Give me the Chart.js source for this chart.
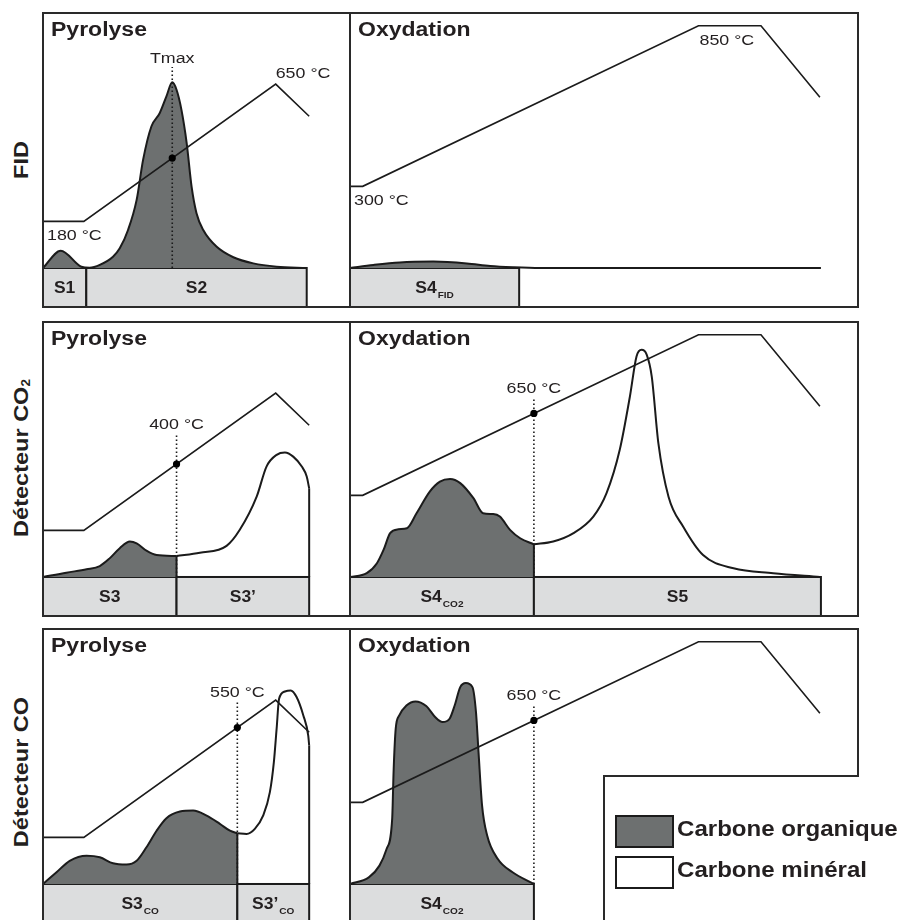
<!DOCTYPE html>
<html lang="fr">
<head>
<meta charset="UTF-8">
<title>Pyrolyse / Oxydation</title>
<script src="https://cdn.jsdelivr.net/npm/chart.js"></script>
<style>
  body { margin: 0; background: #fff; width: 904px; height: 920px; overflow: hidden; position: relative; }
  canvas { position: absolute; }
  .side {
    position: absolute; white-space: nowrap; line-height: 1;
    font: bold 21px "Liberation Sans", Arial, sans-serif; color: #231f20;
    transform: translate(-50%, -50%) rotate(-90deg) scaleX(1.12);
  }
  .side sub { font-size: 12px; vertical-align: -2px; }
</style>
</head>
<body>
<div class="side" style="left:21px;top:160px">FID</div>
<div class="side" style="left:21px;top:458px">Détecteur CO<sub>2</sub></div>
<div class="side" style="left:21px;top:772px">Détecteur CO</div>
<script>
// temperature programmes (time as % of panel width, °C)
const pyroTime = [0, 13.3, 75.8, 86.7];
const pyroTemp = [180, 180, 650, 540];
const oxyTime = [0, 2.5, 68.6, 80.9, 92.5];
const oxyTemp = [300, 300, 850, 850, 605];

// FID - pyrolyse (S1 + S2)
const fidPyroTime = [0, 5.8, 12.5, 15.2, 18.5, 22.8, 25.0, 27.7, 30.5, 32.6, 35.3, 38.0, 40.2, 42.1, 43.5, 45.1, 46.8, 48.4, 50.0, 52.2, 56.5, 62.0, 68.5, 76.1, 85.9];
const fidPyroSignal = [0, 6.8, 0.5, 0.1, 1.2, 4.4, 7.7, 14.9, 26.7, 42.4, 55.5, 60.7, 67.3, 72.8, 69.9, 62.0, 49.0, 31.9, 21.5, 14.9, 8.4, 4.2, 1.8, 0.5, 0];
const fidPyroBars = ['S1', 'S2'];
const fidPyroEdges = [0, 14.1, 85.9];
const fidPyroMark = [42.1, 78.8];

// FID - oxydation (S4 FID)
const fidOxyTime = [0, 4.6, 9.8, 16.4, 23.0, 27.6, 32.1, 37.4, 92.7];
const fidOxySignal = [0, 1.2, 2.2, 2.5, 1.8, 0.8, 0.3, 0, 0];
const fidOxyBars = ['S4|FID'];
const fidOxyEdges = [0, 33.3];

// CO2 - pyrolyse (S3 organique, S3' minéral)
const co2PyroOrgTime = [0, 7.6, 14.2, 18.5, 21.7, 25.0, 28.3, 30.5, 33.7, 37.0, 43.5];
const co2PyroOrgSignal = [0, 1.7, 3.0, 4.3, 7.3, 11.3, 13.9, 13.2, 10.3, 8.6, 8.2];
const co2PyroMinTime = [43.5, 51.1, 59.8, 64.1, 69.6, 72.8, 76.1, 78.8, 81.5, 84.3, 85.9, 86.7];
const co2PyroMinSignal = [8.2, 9.5, 12.2, 18.5, 31.5, 43.3, 47.9, 48.8, 47.2, 43.3, 39.4, 34.8];
const co2PyroBars = ['S3', 'S3\u2019'];
const co2PyroEdges = [0, 43.5, 86.7];
const co2PyroMark = [43.5, 56.2];

// CO2 - oxydation (S4 CO2 organique, S5 minéral)
const co2OxyOrgTime = [0, 3.3, 5.3, 6.6, 7.9, 9.5, 11.2, 13.1, 15.7, 17.7, 19.7, 21.7, 24.3, 26.2, 28.2, 29.5, 31.5, 33.5, 36.2];
const co2OxyOrgSignal = [0, 1.5, 5.4, 10.6, 17.2, 18.7, 19.1, 25.0, 33.5, 37.4, 38.4, 36.8, 30.9, 25.0, 24.7, 23.7, 18.5, 15.2, 12.8];
const co2OxyMinTime = [36.2, 40.0, 44.0, 47.9, 50.5, 53.1, 55.1, 56.4, 57.4, 58.4, 59.4, 60.7, 62.7, 65.6, 69.5, 75.5, 83.3, 92.5];
const co2OxyMinSignal = [12.8, 13.9, 17.2, 23.7, 32.9, 49.9, 70.8, 86.5, 89.1, 87.2, 78.6, 52.5, 31.5, 19.7, 8.6, 3.4, 1.5, 0];
const co2OxyBars = ['S4|CO2', 'S5'];
const co2OxyEdges = [0, 36.2, 92.7];
const co2OxyMark = [36.2, 70.3];

// CO - pyrolyse (S3 CO, S3' CO)
const coPyroOrgTime = [0, 4.4, 8.7, 14.2, 18.5, 22.8, 27.2, 30.5, 33.7, 37.0, 40.2, 44.6, 48.9, 53.3, 57.6, 60.9, 63.3];
const coPyroOrgSignal = [0, 4.6, 9.1, 11.1, 10.5, 8.1, 7.6, 9.1, 14.4, 20.9, 25.8, 28.4, 28.8, 26.8, 23.6, 20.9, 19.9];
const coPyroMinTime = [63.3, 66.3, 69.0, 71.7, 73.9, 75.2, 76.1, 76.9, 78.8, 80.7, 82.6, 84.8, 86.4, 86.7];
const coPyroMinSignal = [19.9, 19.6, 21.6, 26.8, 36.0, 47.8, 60.9, 72.6, 75.5, 75.9, 73.3, 66.1, 58.2, 54.3];
const coPyroBars = ['S3|CO', 'S3\u2019|CO'];
const coPyroEdges = [0, 63.3, 86.7];
const coPyroMark = [63.3, 71.7];

// CO - oxydation (S4)
const coOxyOrgTime = [0, 3.7, 5.8, 7.2, 8.3, 8.6, 9.0, 9.7, 11.1, 12.9, 15.0, 16.8, 18.2, 19.6, 20.6, 21.7, 22.8, 24.1, 24.8, 25.3, 26.0, 27.0, 29.1, 32.0, 36.2];
const coOxyOrgSignal = [0, 2.6, 7.2, 13.7, 25.5, 45.2, 60.9, 66.1, 70.0, 71.6, 69.8, 65.4, 63.5, 64.8, 70.0, 77.2, 78.8, 77.2, 67.4, 51.7, 30.7, 19.0, 9.8, 4.6, 0];
const coOxyBars = ['S4|CO2'];
const coOxyEdges = [0, 36.2];
const coOxyMark = [36.2, 70.4];

const markLabels = ['Tmax', '400 °C', '650 °C', '550 °C', '650 °C'];
const legendLabels = ['Carbone organique', 'Carbone minéral'];

const INK = '#1b1b1b';
const TEXT = '#231f20';
const DARK = '#6d7070';
const BAR = '#dcddde';
const FONT = '"Liberation Sans", Arial, Helvetica, sans-serif';
const H = 294;

function zip(xs, ys) {
    return xs.map((x, i) => ({ x: x, y: ys[i] }));
}

function tempAt(ts, cs, t) {
    for (let i = 1; i < ts.length; i++) {
        if (t <= ts[i]) return cs[i - 1] + (cs[i] - cs[i - 1]) * (t - ts[i - 1]) / (ts[i] - ts[i - 1]);
    }
    return cs[cs.length - 1];
}

function drawText(ctx, str, x, y, size, bold, align, sx) {
    ctx.save();
    ctx.font = (bold ? 'bold ' : '') + size + 'px ' + FONT;
    const w = ctx.measureText(str).width * sx;
    const x0 = align === 'center' ? x - w / 2 : align === 'right' ? x - w : x;
    ctx.translate(x0, y);
    ctx.scale(sx, 1);
    ctx.fillStyle = TEXT;
    ctx.textAlign = 'left';
    ctx.textBaseline = 'alphabetic';
    ctx.fillText(str, 0, 0);
    ctx.restore();
    return w;
}

function textWidth(ctx, str, size, bold, sx) {
    ctx.save();
    ctx.font = (bold ? 'bold ' : '') + size + 'px ' + FONT;
    const w = ctx.measureText(str).width * sx;
    ctx.restore();
    return w;
}

// "S4|CO2" -> S4 with subscript CO2
function drawBarLabel(ctx, label, cx, base) {
    const parts = label.split('|');
    const wm = textWidth(ctx, parts[0], 16.5, true, 1.06);
    const ws = parts[1] ? textWidth(ctx, parts[1], 9.5, true, 1.06) + 1 : 0;
    const x0 = cx - (wm + ws) / 2;
    drawText(ctx, parts[0], x0, base, 16.5, true, 'left', 1.06);
    if (parts[1]) drawText(ctx, parts[1], x0 + wm + 1, base + 5, 9.5, true, 'left', 1.06);
}

const panelPlugin = {
    id: 'panel',
    beforeDatasetsDraw(chart, args, o) {
        const ctx = chart.ctx, xs = chart.scales.x, ys = chart.scales.y, a = chart.chartArea;
        const y0 = ys.getPixelForValue(0);
        ctx.save();
        for (let i = 0; i < o.bars.length; i++) {
            const x0 = xs.getPixelForValue(o.edges[i]);
            const x1 = xs.getPixelForValue(o.edges[i + 1]);
            ctx.fillStyle = BAR;
            ctx.fillRect(x0, y0, x1 - x0, a.bottom - y0);
            ctx.strokeStyle = INK;
            ctx.lineWidth = 2;
            ctx.strokeRect(x0, y0, x1 - x0, a.bottom - y0);
        }
        ctx.restore();
    },
    afterDatasetsDraw(chart, args, o) {
        const ctx = chart.ctx, xs = chart.scales.x, ys = chart.scales.y, y2 = chart.scales.y2, a = chart.chartArea;
        const y0 = ys.getPixelForValue(0);

        for (let i = 0; i < o.bars.length; i++) {
            const x0 = xs.getPixelForValue(o.edges[i]);
            const x1 = xs.getPixelForValue(o.edges[i + 1]);
            drawBarLabel(ctx, o.bars[i], (x0 + x1) / 2, (y0 + a.bottom) / 2 + 6);
        }

        // frame
        ctx.save();
        ctx.strokeStyle = '#2a2a2a';
        ctx.lineWidth = 2;
        ctx.beginPath();
        if (o.legend) {
            const nx = a.left + 254, ny = a.top + 147;
            ctx.moveTo(a.left, a.top);
            ctx.lineTo(a.right, a.top);
            ctx.lineTo(a.right, ny);
            ctx.lineTo(nx, ny);
            ctx.lineTo(nx, a.bottom);
            ctx.lineTo(a.left, a.bottom);
            ctx.closePath();
        } else {
            ctx.rect(a.left, a.top, a.right - a.left, a.bottom - a.top);
        }
        ctx.stroke();
        ctx.restore();

        drawText(ctx, o.title, a.left + 8, a.top + 22.5, 19.5, true, 'left', 1.18);

        // temperature labels
        if (o.tempLabels) {
            const pt = o.progT, pc = o.progC;
            drawText(ctx, pc[0] + ' °C', a.left + 4, y2.getPixelForValue(pc[0]) + 18.5, 15.5, false, 'left', 1.15);
            const k = pc.indexOf(Math.max(...pc));
            const px = xs.getPixelForValue(pt[k]), py = y2.getPixelForValue(pc[k]);
            if (o.peakBelow) drawText(ctx, pc[k] + ' °C', px + 1, py + 18.8, 15.5, false, 'left', 1.15);
            else drawText(ctx, pc[k] + ' °C', px, py - 6, 15.5, false, 'left', 1.15);
        }

        if (o.mark) {
            const mx = xs.getPixelForValue(o.mark[0]), my = ys.getPixelForValue(o.mark[1]);
            drawText(ctx, o.markLabel, mx, my - 4.5, 15.5, false, 'center', 1.15);
        }

        if (o.legend) {
            const nx = a.left + 254, ny = a.top + 147;
            const sx0 = nx + 12, sw = 57, sh = 31;
            const fills = [DARK, '#ffffff'];
            for (let i = 0; i < legendLabels.length; i++) {
                const sy = ny + 40 + i * 41;
                ctx.save();
                ctx.fillStyle = fills[i];
                ctx.fillRect(sx0, sy, sw, sh);
                ctx.strokeStyle = INK;
                ctx.lineWidth = 2;
                ctx.strokeRect(sx0, sy, sw, sh);
                ctx.restore();
                drawText(ctx, legendLabels[i], sx0 + sw + 4, sy + 19.5, 21.5, true, 'left', 1.12);
            }
        }
    }
};

function curve(points, fillColor) {
    return {
        data: points,
        borderColor: INK,
        borderWidth: 2,
        backgroundColor: fillColor || 'rgba(0,0,0,0)',
        fill: fillColor ? 'origin' : false,
        pointRadius: 0,
        cubicInterpolationMode: 'monotone'
    };
}

function straight(points, dash, width) {
    return {
        data: points,
        borderColor: INK,
        borderWidth: width || 2,
        borderDash: dash || [],
        fill: false,
        pointRadius: 0,
        tension: 0
    };
}

function panel(cfg) {
    const pad = 2, padR = cfg.padRight || pad;
    const cv = document.createElement('canvas');
    cv.width = cfg.w + pad + padR;
    cv.height = H + 2 * pad;
    cv.style.left = (cfg.left - pad) + 'px';
    cv.style.top = (cfg.top - pad) + 'px';
    cv.style.width = cv.width + 'px';
    cv.style.height = cv.height + 'px';
    document.body.appendChild(cv);

    const ds = [];
    // marker dot on the temperature programme
    if (cfg.mark) {
        ds.push({
            data: [{ x: cfg.mark[0], y: tempAt(cfg.progT, cfg.progC, cfg.mark[0]) }],
            yAxisID: 'y2', showLine: false, pointRadius: 3.6,
            pointBackgroundColor: '#000', pointBorderWidth: 0
        });
    }
    // temperature programme
    ds.push(Object.assign(straight(zip(cfg.progT, cfg.progC), [], 1.6), { yAxisID: 'y2' }));
    // dotted marker line
    if (cfg.mark) ds.push(straight([{ x: cfg.mark[0], y: 0 }, { x: cfg.mark[0], y: cfg.mark[1] }], [1.6, 2.4], 1.6));
    // vertical closing edges
    if (cfg.orgEdge) {
        const t = cfg.orgT[cfg.orgT.length - 1], v = cfg.orgV[cfg.orgV.length - 1];
        ds.push(straight([{ x: t, y: 0 }, { x: t, y: v }]));
    }
    if (cfg.minT) {
        const t = cfg.minT[cfg.minT.length - 1], v = cfg.minV[cfg.minV.length - 1];
        ds.push(straight([{ x: t, y: 0 }, { x: t, y: v }]));
        ds.push(curve(zip(cfg.minT, cfg.minV)));
    }
    ds.push(curve(zip(cfg.orgT, cfg.orgV), DARK));

    new Chart(cv, {
        type: 'line',
        data: { datasets: ds },
        options: {
            responsive: false,
            animation: false,
            events: [],
            layout: { autoPadding: false, padding: { left: pad, top: pad, right: padR, bottom: pad } },
            scales: {
                x: { type: 'linear', min: 0, max: 100, display: false },
                y: { min: -15.3, max: 100, display: false },
                y2: { min: -113.2, max: 893.5, display: false, position: 'right' }
            },
            plugins: {
                legend: { display: false },
                tooltip: { enabled: false },
                panel: {
                    title: cfg.title, bars: cfg.bars, edges: cfg.edges,
                    progT: cfg.progT, progC: cfg.progC,
                    tempLabels: cfg.tempLabels, peakBelow: cfg.peakBelow,
                    mark: cfg.mark, markLabel: cfg.markLabel, legend: cfg.legend
                }
            }
        },
        plugins: [panelPlugin]
    });
}

panel({ left: 43, top: 13, w: 307, title: 'Pyrolyse', progT: pyroTime, progC: pyroTemp,
    orgT: fidPyroTime, orgV: fidPyroSignal, bars: fidPyroBars, edges: fidPyroEdges,
    mark: fidPyroMark, markLabel: markLabels[0], tempLabels: true });
panel({ left: 350, top: 13, w: 508, title: 'Oxydation', progT: oxyTime, progC: oxyTemp,
    orgT: fidOxyTime, orgV: fidOxySignal, bars: fidOxyBars, edges: fidOxyEdges,
    tempLabels: true, peakBelow: true });
panel({ left: 43, top: 322, w: 307, title: 'Pyrolyse', progT: pyroTime, progC: pyroTemp,
    orgT: co2PyroOrgTime, orgV: co2PyroOrgSignal, orgEdge: true,
    minT: co2PyroMinTime, minV: co2PyroMinSignal, bars: co2PyroBars, edges: co2PyroEdges,
    mark: co2PyroMark, markLabel: markLabels[1] });
panel({ left: 350, top: 322, w: 508, title: 'Oxydation', progT: oxyTime, progC: oxyTemp,
    orgT: co2OxyOrgTime, orgV: co2OxyOrgSignal, orgEdge: true,
    minT: co2OxyMinTime, minV: co2OxyMinSignal, bars: co2OxyBars, edges: co2OxyEdges,
    mark: co2OxyMark, markLabel: markLabels[2] });
panel({ left: 43, top: 629, w: 307, title: 'Pyrolyse', progT: pyroTime, progC: pyroTemp,
    orgT: coPyroOrgTime, orgV: coPyroOrgSignal, orgEdge: true,
    minT: coPyroMinTime, minV: coPyroMinSignal, bars: coPyroBars, edges: coPyroEdges,
    mark: coPyroMark, markLabel: markLabels[3] });
panel({ left: 350, top: 629, w: 508, padRight: 48, title: 'Oxydation', progT: oxyTime, progC: oxyTemp,
    orgT: coOxyOrgTime, orgV: coOxyOrgSignal, bars: coOxyBars, edges: coOxyEdges,
    mark: coOxyMark, markLabel: markLabels[4], legend: true });
</script>
</body>
</html>
